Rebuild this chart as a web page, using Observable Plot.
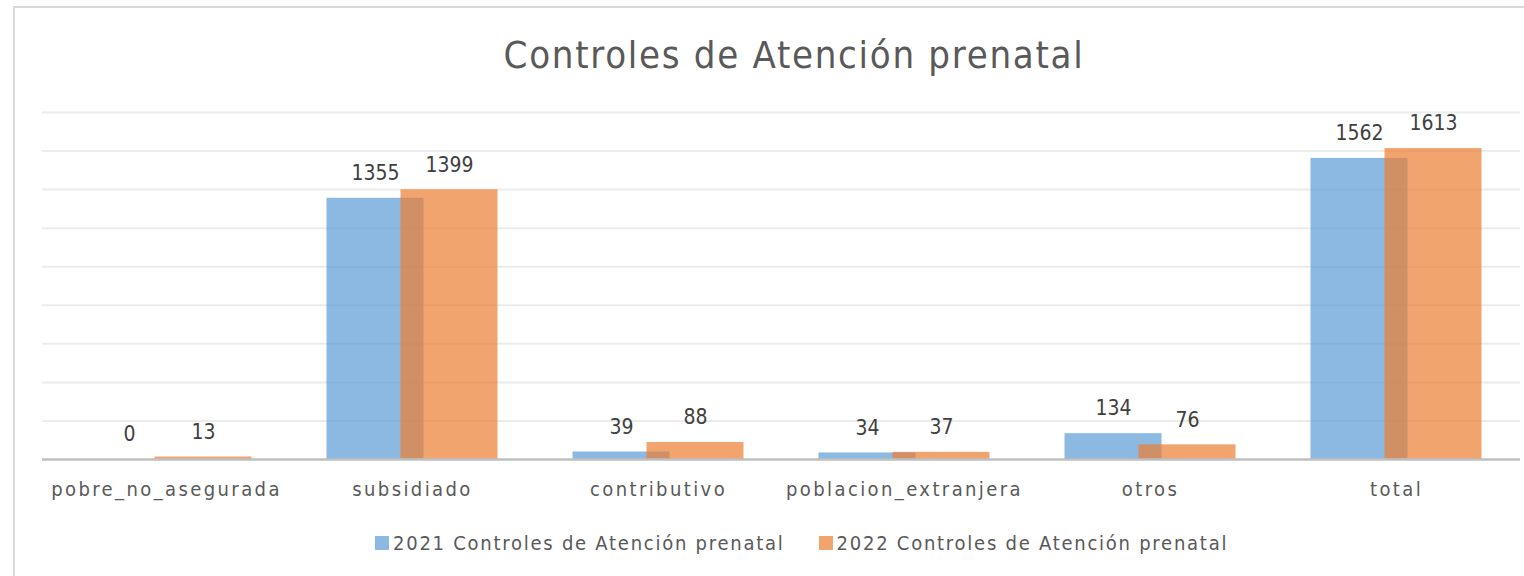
<!DOCTYPE html>
<html>
<head>
<meta charset="utf-8">
<script src="https://cdn.jsdelivr.net/npm/d3@7"></script>
<script src="https://cdn.jsdelivr.net/npm/@observablehq/plot@0.6"></script>
<style>
  html, body { margin: 0; padding: 0; background: #fff; }
  #page { position: relative; width: 1524px; height: 576px; overflow: hidden; background: #fff;
          font-family: "Liberation Sans Narrow", "DejaVu Sans Condensed", sans-serif; color: #595959; }
  #frame { position: absolute; left: 13px; top: 6px; width: 1600px; height: 700px; border: 2px solid #d9d9d9; }
  #title { position: absolute; left: 0; width: 1588px; top: 33px; text-align: center; font-size: 38px;
           line-height: 44px; letter-spacing: 1.7px; color: #595959; }
  #chart { position: absolute; left: 0; top: 100px; }
  #legend { position: absolute; left: 375px; top: 530px; height: 26px; display: flex; align-items: center;
            font-size: 20px; letter-spacing: 1.75px; color: #595959; }
  .item { display: flex; align-items: center; margin-right: 34px; }
  .sw { width: 14px; height: 14px; margin-right: 4px; }
  g[aria-label="x-axis tick label"] text { letter-spacing: 2.4px; }
</style>
</head>
<body>
<div id="page">
  <div id="frame"></div>
  <div id="title"></div>
  <div id="chart"></div>
  <div id="legend"></div>
</div>
<script>
const title = "Controles de Atención prenatal";
const categories = ["pobre_no_asegurada", "subsidiado", "contributivo", "poblacion_extranjera", "otros", "total"];
const seriesNames = ["2021 Controles de Atención prenatal", "2022 Controles de Atención prenatal"];
const values2021 = [0, 1355, 39, 34, 134, 1562];
const values2022 = [13, 1399, 88, 37, 76, 1613];
const gridTicks = [200, 400, 600, 800, 1000, 1200, 1400, 1600, 1800];
const colors = ["#5B9BD5", "#ED7D31"];

const d2021 = categories.map((c, i) => ({cat: c, v: values2021[i]}));
const d2022 = categories.map((c, i) => ({cat: c, v: values2022[i]}));

document.getElementById("title").textContent = title;

const inset = 74.5, off = 37;
const labelFont = "Liberation Sans Narrow, DejaVu Sans Condensed, sans-serif";

const plot = Plot.plot({
  width: 1524,
  height: 404,
  marginLeft: 42,
  marginRight: 4,
  marginTop: 12,
  marginBottom: 45,
  style: {fontFamily: labelFont, fontSize: "20px", color: "#595959", background: "transparent", overflow: "visible"},
  x: {domain: categories, padding: 0, label: null},
  y: {domain: [0, 1800], axis: null},
  marks: [
    Plot.gridY(gridTicks, {stroke: "#ececec", strokeWidth: 2, strokeOpacity: 1}),
    Plot.barY(d2021, {x: "cat", y: "v", fill: colors[0], fillOpacity: 0.7, insetLeft: inset, insetRight: inset, dx: -off}),
    Plot.barY(d2022, {x: "cat", y: "v", fill: colors[1], fillOpacity: 0.7, insetLeft: inset, insetRight: inset, dx: off}),
    Plot.ruleY([0], {stroke: "#bfbfbf", strokeWidth: 2.5}),
    Plot.text(d2021, {x: "cat", y: "v", text: d => String(d.v), dx: -off, dy: -25, fontSize: 21, fill: "#404040", lineAnchor: "middle"}),
    Plot.text(d2022, {x: "cat", y: "v", text: d => String(d.v), dx: off, dy: -25, fontSize: 21, fill: "#404040", lineAnchor: "middle"}),
    Plot.axisX({tickSize: 0, tickPadding: 22, fontSize: 20, fill: "#595959", label: null})
  ]
});
document.getElementById("chart").appendChild(plot);

const legend = document.getElementById("legend");
seriesNames.forEach((name, i) => {
  const item = document.createElement("div");
  item.className = "item";
  const sw = document.createElement("div");
  sw.className = "sw";
  sw.style.background = colors[i];
  sw.style.opacity = 0.7;
  const t = document.createElement("span");
  t.textContent = name;
  item.appendChild(sw);
  item.appendChild(t);
  legend.appendChild(item);
});
</script>
</body>
</html>
